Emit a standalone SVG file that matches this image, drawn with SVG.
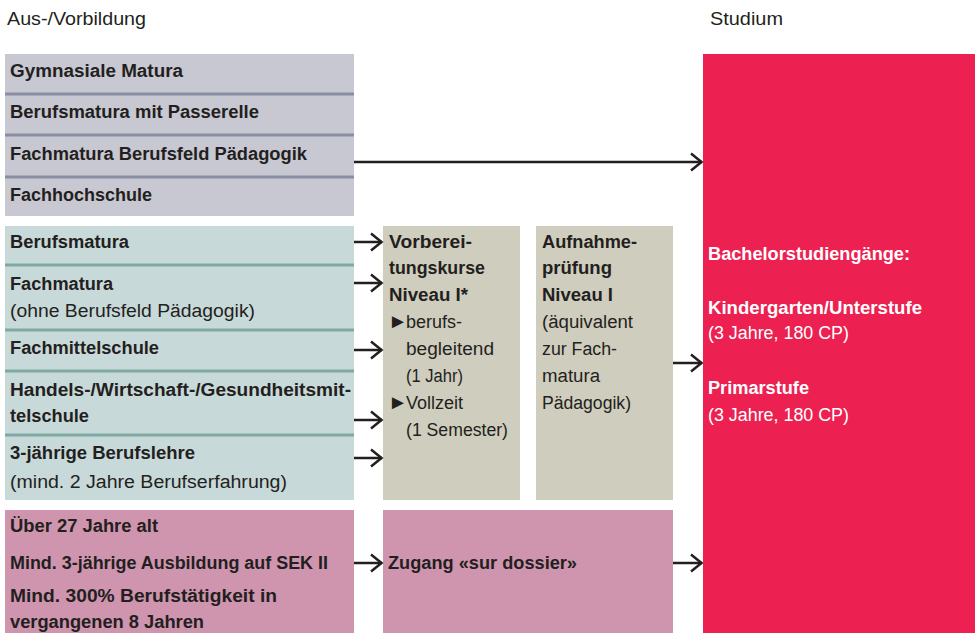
<svg xmlns="http://www.w3.org/2000/svg" width="979" height="633" viewBox="0 0 979 633">
<defs>
<style>
text{font-family:"Liberation Sans",Arial,sans-serif;font-size:18px;fill:#231f20}
.b{font-weight:bold}
.w{fill:#ffffff}
.h{font-size:19px}
.tri{font-size:20px}
.con line{stroke:#231f20;stroke-width:2.5}
.sepg{stroke:#8a8ea3;stroke-width:3}
.sept{stroke:#7fa9a2;stroke-width:3}
</style>
<marker id="ah" viewBox="0 0 14 20" refX="12.5" refY="10" markerWidth="14" markerHeight="20" markerUnits="userSpaceOnUse" orient="auto">
<path d="M1.5,1.5 L12,10 L1.5,18.5" fill="none" stroke="#231f20" stroke-width="2.5"/>
</marker>
</defs>
<rect width="979" height="633" fill="#ffffff"/>
<text x="7" y="25" class="h" textLength="139" lengthAdjust="spacingAndGlyphs">Aus-/Vorbildung</text>
<text x="710" y="25" class="h" textLength="73" lengthAdjust="spacingAndGlyphs">Studium</text>

<g id="grey">
<rect x="5" y="54" width="349" height="162" fill="#c8c8d2"/>
<line class="sepg" x1="5" y1="94" x2="354" y2="94"/>
<line class="sepg" x1="5" y1="135" x2="354" y2="135"/>
<line class="sepg" x1="5" y1="177" x2="354" y2="177"/>
<text x="10" y="77" class="b" textLength="173" lengthAdjust="spacingAndGlyphs">Gymnasiale Matura</text>
<text x="10" y="118" class="b" textLength="249" lengthAdjust="spacingAndGlyphs">Berufsmatura mit Passerelle</text>
<text x="10" y="160" class="b" textLength="297" lengthAdjust="spacingAndGlyphs">Fachmatura Berufsfeld Pädagogik</text>
<text x="10" y="201" class="b" textLength="142" lengthAdjust="spacingAndGlyphs">Fachhochschule</text>
</g>

<g id="teal">
<rect x="5" y="226" width="349" height="274" fill="#c8d9d9"/>
<line class="sept" x1="5" y1="265" x2="354" y2="265"/>
<line class="sept" x1="5" y1="330" x2="354" y2="330"/>
<line class="sept" x1="5" y1="371" x2="354" y2="371"/>
<line class="sept" x1="5" y1="435" x2="354" y2="435"/>
<text x="10" y="248" class="b" textLength="119" lengthAdjust="spacingAndGlyphs">Berufsmatura</text>
<text x="10" y="290" class="b" textLength="103" lengthAdjust="spacingAndGlyphs">Fachmatura</text>
<text x="10" y="317" textLength="245" lengthAdjust="spacingAndGlyphs">(ohne Berufsfeld Pädagogik)</text>
<text x="10" y="354" class="b" textLength="149" lengthAdjust="spacingAndGlyphs">Fachmittelschule</text>
<text x="10" y="396" class="b" textLength="341" lengthAdjust="spacingAndGlyphs">Handels-/Wirtschaft-/Gesundheitsmit-</text>
<text x="10" y="422" class="b" textLength="79" lengthAdjust="spacingAndGlyphs">telschule</text>
<text x="10" y="459" class="b" textLength="185" lengthAdjust="spacingAndGlyphs">3-jährige Berufslehre</text>
<text x="10" y="488" textLength="277" lengthAdjust="spacingAndGlyphs">(mind. 2 Jahre Berufserfahrung)</text>
</g>

<g id="pink">
<rect x="5" y="510" width="349" height="123" fill="#cf94ae"/>
<text x="10" y="532" class="b" textLength="148" lengthAdjust="spacingAndGlyphs">Über 27 Jahre alt</text>
<text x="10" y="569" class="b" textLength="318" lengthAdjust="spacingAndGlyphs">Mind. 3-jährige Ausbildung auf SEK II</text>
<text x="10" y="602" class="b" textLength="267" lengthAdjust="spacingAndGlyphs">Mind. 300% Berufstätigkeit in</text>
<text x="10" y="628" class="b" textLength="194" lengthAdjust="spacingAndGlyphs">vergangenen 8 Jahren</text>
</g>

<g id="vorbereitung">
<rect x="383" y="226" width="137" height="274" fill="#cfcdbd"/>
<text x="389" y="248" class="b" textLength="83" lengthAdjust="spacingAndGlyphs">Vorberei-</text>
<text x="389" y="274" class="b" textLength="96" lengthAdjust="spacingAndGlyphs">tungskurse</text>
<text x="389" y="301" class="b" textLength="79" lengthAdjust="spacingAndGlyphs">Niveau I*</text>
<text x="388" y="328"><tspan class="tri">►</tspan><tspan x="406">berufs-</tspan></text>
<text x="406" y="355" textLength="88" lengthAdjust="spacingAndGlyphs">begleitend</text>
<text x="406" y="382" textLength="57" lengthAdjust="spacingAndGlyphs">(1 Jahr)</text>
<text x="388" y="409"><tspan class="tri">►</tspan><tspan x="406">Vollzeit</tspan></text>
<text x="406" y="436" textLength="102" lengthAdjust="spacingAndGlyphs">(1 Semester)</text>
</g>

<g id="aufnahme">
<rect x="536" y="226" width="137" height="274" fill="#cfcdbd"/>
<text x="542" y="248" class="b" textLength="95" lengthAdjust="spacingAndGlyphs">Aufnahme-</text>
<text x="542" y="274" class="b" textLength="70" lengthAdjust="spacingAndGlyphs">prüfung</text>
<text x="542" y="301" class="b" textLength="71" lengthAdjust="spacingAndGlyphs">Niveau I</text>
<text x="542" y="328" textLength="91" lengthAdjust="spacingAndGlyphs">(äquivalent</text>
<text x="542" y="355" textLength="75" lengthAdjust="spacingAndGlyphs">zur Fach-</text>
<text x="542" y="382" textLength="58" lengthAdjust="spacingAndGlyphs">matura</text>
<text x="542" y="409" textLength="89" lengthAdjust="spacingAndGlyphs">Pädagogik)</text>
</g>

<g id="dossier">
<rect x="383" y="510" width="290" height="123" fill="#cf94ae"/>
<text x="388" y="569" class="b" textLength="189" lengthAdjust="spacingAndGlyphs">Zugang «sur dossier»</text>
</g>

<g id="studium">
<rect x="703" y="54" width="272" height="579" fill="#ec2152"/>
<text x="708" y="260" class="b w" textLength="202" lengthAdjust="spacingAndGlyphs">Bachelorstudiengänge:</text>
<text x="708" y="314" class="b w" textLength="214" lengthAdjust="spacingAndGlyphs">Kindergarten/Unterstufe</text>
<text x="708" y="339" class="w" textLength="141" lengthAdjust="spacingAndGlyphs">(3 Jahre, 180 CP)</text>
<text x="708" y="394" class="b w" textLength="101" lengthAdjust="spacingAndGlyphs">Primarstufe</text>
<text x="708" y="421" class="w" textLength="141" lengthAdjust="spacingAndGlyphs">(3 Jahre, 180 CP)</text>
</g>

<g id="connectors" class="con">
<line x1="354" y1="162" x2="702" y2="162" marker-end="url(#ah)"/>
<line x1="354" y1="242" x2="382" y2="242" marker-end="url(#ah)"/>
<line x1="354" y1="283" x2="382" y2="283" marker-end="url(#ah)"/>
<line x1="354" y1="350" x2="382" y2="350" marker-end="url(#ah)"/>
<line x1="354" y1="420" x2="382" y2="420" marker-end="url(#ah)"/>
<line x1="354" y1="458" x2="382" y2="458" marker-end="url(#ah)"/>
<line x1="673" y1="363" x2="702" y2="363" marker-end="url(#ah)"/>
<line x1="354" y1="563" x2="382" y2="563" marker-end="url(#ah)"/>
<line x1="673" y1="563" x2="702" y2="563" marker-end="url(#ah)"/>
</g>
</svg>
